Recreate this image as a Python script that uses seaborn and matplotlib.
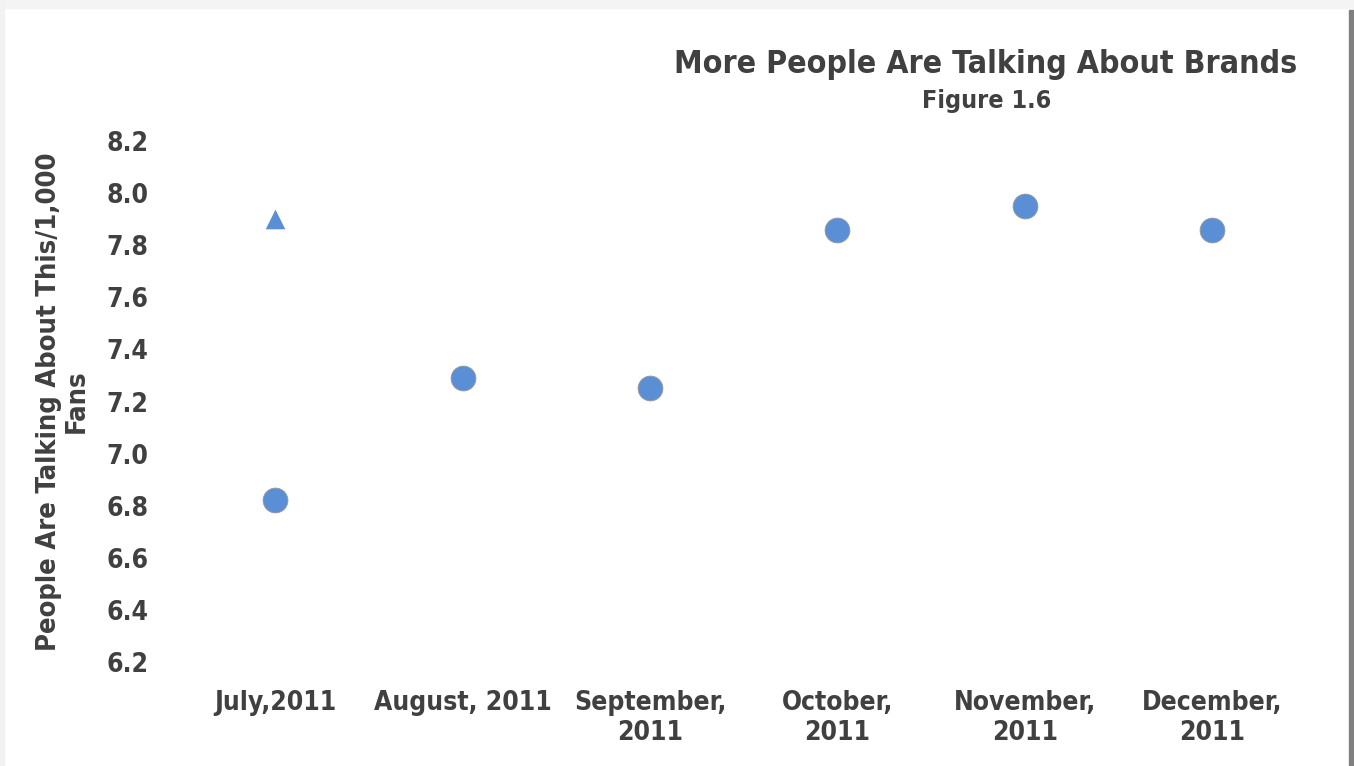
import matplotlib
matplotlib.use("Agg")
import matplotlib.pyplot as plt
from matplotlib.patches import Rectangle
import seaborn as sns
import pandas as pd

months = ["July,2011", "August, 2011", "September,\n2011", "October,\n2011",
          "November,\n2011", "December,\n2011"]
talking_per_1000 = [6.82, 7.29, 7.25, 7.86, 7.95, 7.86]
extra_month = ["July,2011"]
extra_value = [7.90]
y_ticks = [6.2, 6.4, 6.6, 6.8, 7.0, 7.2, 7.4, 7.6, 7.8, 8.0, 8.2]

sns.set_theme(style="white")
plt.rcParams["font.family"] = ["DejaVu Sans"]

text_color = "#404040"
point_color = "#5B8FD5"

fig = plt.figure(figsize=(13.54, 7.66), dpi=100)
fig.patch.set_facecolor("white")

# card with a soft drop shadow on the right and top
fig.add_artist(Rectangle((1349 / 1354, 0), 5 / 1354, 1 - 10 / 766,
                         transform=fig.transFigure, color="#808080", zorder=0))
fig.add_artist(Rectangle((0, 1 - 8 / 766), 1, 8 / 766,
                         transform=fig.transFigure, color="#f4f4f4", zorder=0))
fig.add_artist(Rectangle((0, 0), 4 / 1354, 1,
                         transform=fig.transFigure, color="#f2f2f2", zorder=0))

ax = fig.add_axes([181.5 / 1354, (766 - 662) / 766, (1306 - 181.5) / 1354, (662 - 141) / 766])
ax.set_facecolor("none")

df = pd.DataFrame({"month": months, "value": talking_per_1000})
sns.scatterplot(data=df, x="month", y="value", ax=ax, s=320, color=point_color,
                edgecolor="#9a9a9a", linewidth=0.6, zorder=3, legend=False)
df2 = pd.DataFrame({"month": extra_month, "value": extra_value})
sns.scatterplot(data=df2, x="month", y="value", ax=ax, s=200, marker="^",
                color=point_color, linewidth=0, zorder=3, legend=False)

ax.set_xlim(-0.5, len(months) - 0.5)
ax.set_ylim(6.2, 8.2)
ax.set_yticks(y_ticks)
ax.set_yticklabels([f"{t:.1f}" for t in y_ticks])
for s in ax.spines.values():
    s.set_visible(False)
ax.tick_params(axis="both", length=0, labelsize=19, colors=text_color)
ax.tick_params(axis="y", pad=24)
ax.tick_params(axis="x", pad=20)
for lbl in ax.get_xticklabels() + ax.get_yticklabels():
    lbl.set_fontweight("bold")
    lbl.set_fontstretch("condensed")
ax.set_xlabel("")
ax.set_ylabel("People Are Talking About This/1,000\nFans", fontsize=19.6,
              color=text_color, labelpad=12, linespacing=1.05,
              fontweight="bold", fontstretch="condensed")

fig.text(1297 / 1354, 1 - 65 / 766, "More People Are Talking About Brands",
         ha="right", va="center", fontsize=23, fontweight="bold",
         fontstretch="condensed", color=text_color)
fig.text(987 / 1354, 1 - 101 / 766, "Figure 1.6", ha="center", va="center",
         fontsize=18, fontweight="bold", fontstretch="condensed", color=text_color)

fig.savefig("out.png", dpi=100)
